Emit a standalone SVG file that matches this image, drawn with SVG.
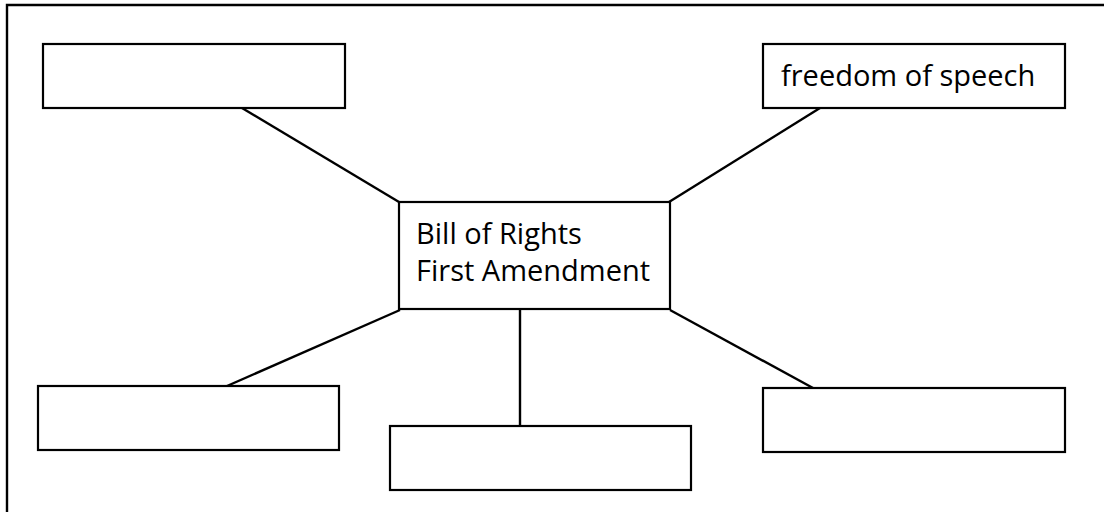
<svg xmlns="http://www.w3.org/2000/svg" width="1104" height="512" viewBox="0 0 1104 512">
<style>
.box{fill:#fff;stroke:#000;stroke-width:2.2}
.ln{stroke:#000;stroke-width:2.4;fill:none}
.t{font-family:"Open Sans","Noto Sans",sans-serif;font-size:29px;fill:#000}
</style>
<rect width="1104" height="512" fill="#fff"/>
<path class="ln" d="M7,512 V5 H1104"/>
<g id="connectors">
<line class="ln" x1="399" y1="202" x2="242" y2="108"/>
<line class="ln" x1="669" y1="202" x2="820" y2="108"/>
<line class="ln" x1="400" y1="310" x2="227" y2="386"/>
<line class="ln" x1="520" y1="310" x2="520" y2="426"/>
<line class="ln" x1="670" y1="310" x2="813" y2="388"/>
</g>
<g id="center">
<rect class="box" x="399" y="202" width="271" height="107"/>
<text class="t" x="416" y="244">Bill of Rights</text>
<text class="t" x="416" y="281">First Amendment</text>
</g>
<g id="top-left"><rect class="box" x="43" y="44" width="302" height="64"/></g>
<g id="top-right">
<rect class="box" x="763" y="44" width="302" height="64"/>
<text class="t" x="781" y="86">freedom of speech</text>
</g>
<g id="bottom-left"><rect class="box" x="38" y="386" width="301" height="64"/></g>
<g id="bottom-middle"><rect class="box" x="390" y="426" width="301" height="64"/></g>
<g id="bottom-right"><rect class="box" x="763" y="388" width="302" height="64"/></g>
</svg>
